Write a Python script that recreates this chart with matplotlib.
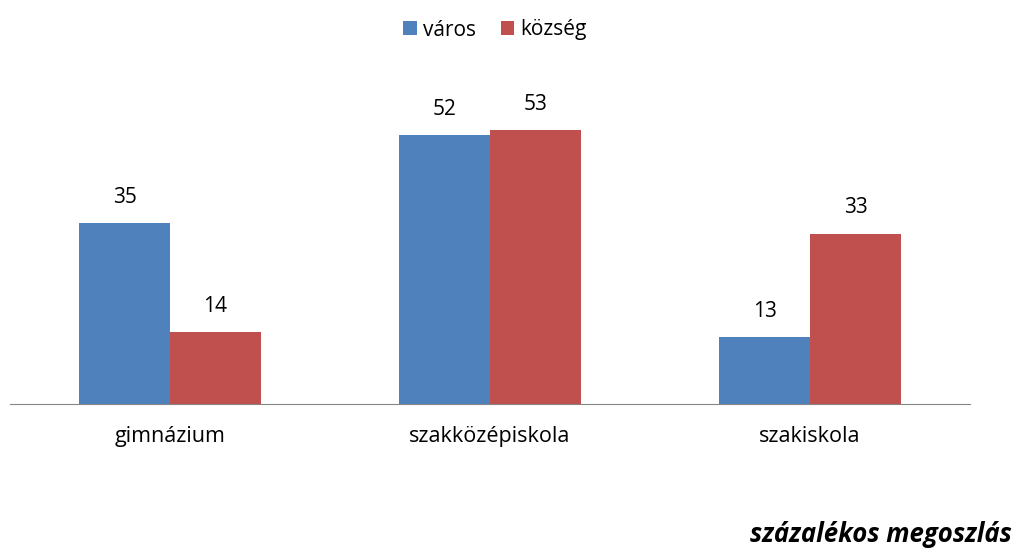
import matplotlib
matplotlib.use("Agg")
import matplotlib.pyplot as plt
import numpy as np

categories = ["gimnázium", "szakközépiskola", "szakiskola"]
series_names = ["város", "község"]
varos = [35, 52, 13]
kozseg = [14, 53, 33]
colors = ["#4F81BD", "#C0504D"]

plt.rcParams['font.family'] = ['Open Sans', 'DejaVu Sans']

W, H = 1014, 549
fig = plt.figure(figsize=(W/100, H/100), dpi=100)
ax = fig.add_axes([10/W, (H-404)/H, 960/W, 310/H])

x = np.arange(len(categories))
bw = 0.284
b1 = ax.bar(x - bw/2, varos, bw, color=colors[0], label=series_names[0])
b2 = ax.bar(x + bw/2, kozseg, bw, color=colors[1], label=series_names[1])

for bars, vals in ((b1, varos), (b2, kozseg)):
    for r, v in zip(bars, vals):
        ax.annotate(str(v), (r.get_x() + r.get_width()/2, v), xytext=(0, 14.5),
                    textcoords="offset points", ha="center", va="baseline", fontsize=15)

ax.set_xlim(-0.5, 2.5)
ax.set_ylim(0, 60)
ax.set_yticks([])
ax.set_xticks(x)
ax.set_xticklabels(categories, fontsize=15.5)
ax.tick_params(axis='x', length=0, pad=16)
for s in ("top", "right", "left"):
    ax.spines[s].set_visible(False)
ax.spines["bottom"].set_color("#868686")

fig.legend(handles=[b1, b2], labels=series_names, loc="center", bbox_to_anchor=(495/W, 1 - 30/H),
           ncol=2, frameon=False, fontsize=15, handlelength=0.65, handleheight=0.65,
           handletextpad=0.3, columnspacing=1.2)

fig.text(1012/W, 1 - 535/H, "százalékos megoszlás", ha="right", va="center",
         fontsize=18.5, fontweight="bold", fontstyle="italic")

fig.savefig("out.png", dpi=100)
